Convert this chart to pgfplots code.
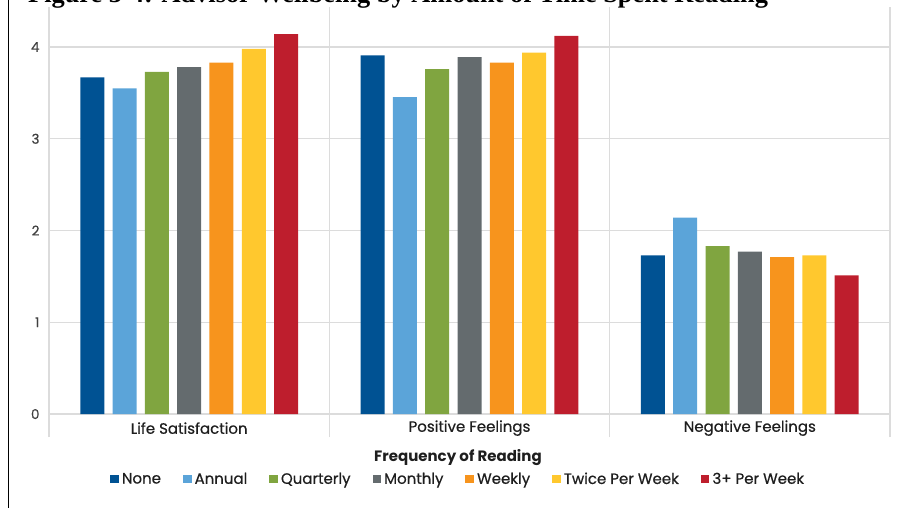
\documentclass[border=0pt]{standalone}
\usepackage{pgfplots}
\pgfplotsset{compat=1.18}
\usepackage{fontspec}
\setmainfont{Poppins}
\newfontfamily\medfont{Poppins}[FakeBold=0.6]
\newfontfamily\titlefont{Liberation Serif}
\definecolor{cNone}{RGB}{0,82,147}
\definecolor{cAnnual}{RGB}{91,164,217}
\definecolor{cQuarterly}{RGB}{128,165,64}
\definecolor{cMonthly}{RGB}{100,107,110}
\definecolor{cWeekly}{RGB}{247,148,29}
\definecolor{cTwice}{RGB}{255,200,46}
\definecolor{cThree}{RGB}{190,30,45}
\definecolor{gridgray}{RGB}{220,220,220}
\definecolor{txt}{RGB}{30,30,30}
\pgfplotsset{sqlegend/.style={legend image code/.code={\fill[##1] (0pt,-4.3pt) rectangle (8.6pt,4.3pt);}}}
\begin{document}
\begin{tikzpicture}
\useasboundingbox (0pt,0pt) rectangle (908pt,-508pt);
\begin{scope}
\clip (0pt,0pt) rectangle (908pt,-508pt);
\node[anchor=base west, inner sep=0, font=\titlefont\bfseries\fontsize{26.35}{30}\selectfont] at (28pt,-2.5pt) {Figure 3-4: Advisor Wellbeing by Amount of Time Spent Reading};
\draw[black, line width=1.8pt] (8.5pt,0pt) -- (8.5pt,-508pt);
\begin{axis}[
  at={(49pt,-437pt)}, anchor=south west,
  scale only axis, width=841pt, height=430pt,
  xmin=-0.5, xmax=2.5, ymin=-0.25, ymax=4.436,
  axis line style={draw=none},
  tick style={draw=none},
  ytick={0,1,2,3,4},
  xtick={-0.5,0.5,1.5,2.5}, xticklabels={},
  xmajorgrids, ymajorgrids,
  major grid style={color=gridgray, line width=1.3pt},
  /pgf/number format/assume math mode=true,
  yticklabel style={font=\medfont\fontsize{13.5}{16}\selectfont, color=txt!85, xshift=-6pt},
  ybar=8.3pt, bar width=24pt,
  clip=false,
  legend columns=-1,
  legend style={at={(0.4863,-0.0977)}, anchor=center, draw=none, fill=none,
     font=\medfont\fontsize{15}{18}\selectfont, text=txt,
     nodes={inner sep=1.5pt},
     /tikz/every even column/.append style={column sep=20.5pt},
     /tikz/every odd column/.append style={column sep=1.5pt},
     legend cell align=left, inner sep=0pt},
]
\addplot[fill=cNone, draw=none, sqlegend] coordinates {(0,3.67) (1,3.91) (2,1.73)};
\addplot[fill=cAnnual, draw=none, sqlegend] coordinates {(0,3.55) (1,3.455) (2,2.14)};
\addplot[fill=cQuarterly, draw=none, sqlegend] coordinates {(0,3.73) (1,3.76) (2,1.83)};
\addplot[fill=cMonthly, draw=none, sqlegend] coordinates {(0,3.78) (1,3.89) (2,1.77)};
\addplot[fill=cWeekly, draw=none, sqlegend] coordinates {(0,3.83) (1,3.83) (2,1.71)};
\addplot[fill=cTwice, draw=none, sqlegend] coordinates {(0,3.98) (1,3.94) (2,1.73)};
\addplot[fill=cThree, draw=none, sqlegend] coordinates {(0,4.14) (1,4.12) (2,1.51)};
\legend{None, Annual, Quarterly, Monthly, Weekly, Twice Per Week, 3+ Per Week}
\node[font=\medfont\fontsize{15}{18}\selectfont, text=txt] at (axis cs:0,-0.153) {Life Satisfaction};
\node[font=\medfont\fontsize{15}{18}\selectfont, text=txt] at (axis cs:1,-0.153) {Positive Feelings};
\node[font=\medfont\fontsize{15}{18}\selectfont, text=txt] at (axis cs:2,-0.153) {Negative Feelings};
\node[font=\bfseries\fontsize{15}{18}\selectfont, text=txt] at (axis description cs:0.4863,-0.0488) {Frequency of Reading};
\end{axis}
\end{scope}
\end{tikzpicture}
\end{document}
